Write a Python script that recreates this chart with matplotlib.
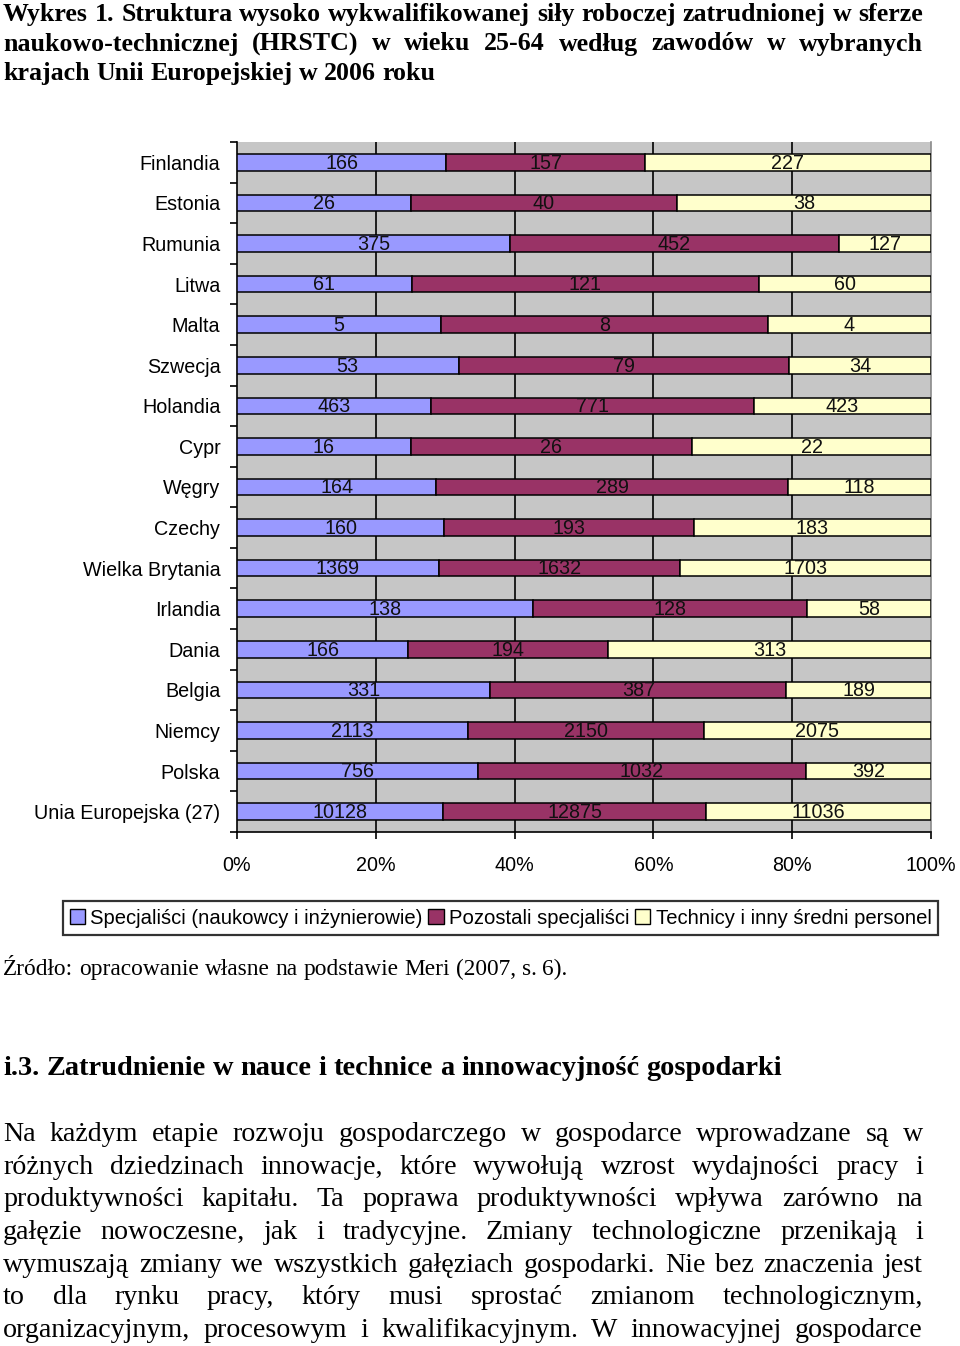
import matplotlib
matplotlib.use("Agg")
import matplotlib.pyplot as plt
import matplotlib.patches as mpatches
import numpy as np

# ---------------- data ----------------
countries = ["Finlandia", "Estonia", "Rumunia", "Litwa", "Malta", "Szwecja",
             "Holandia", "Cypr", "Węgry", "Czechy", "Wielka Brytania",
             "Irlandia", "Dania", "Belgia", "Niemcy", "Polska",
             "Unia Europejska (27)"]
specjalisci = [166, 26, 375, 61, 5, 53, 463, 16, 164, 160, 1369, 138, 166,
               331, 2113, 756, 10128]
pozostali = [157, 40, 452, 121, 8, 79, 771, 26, 289, 193, 1632, 128, 194,
             387, 2150, 1032, 12875]
technicy = [227, 38, 127, 60, 4, 34, 423, 22, 118, 183, 1703, 58, 313,
            189, 2075, 392, 11036]
series_names = ["Specjaliści (naukowcy i inżynierowie)", "Pozostali specjaliści",
                "Technicy i inny średni personel"]
xtick_labels = ["0%", "20%", "40%", "60%", "80%", "100%"]

title_lines = [
    "Wykres 1. Struktura wysoko wykwalifikowanej siły roboczej zatrudnionej w sferze",
    "naukowo-technicznej (HRSTC) w wieku 25-64 według zawodów w wybranych",
    "krajach Unii Europejskiej w 2006 roku",
]
source_text = "Źródło: opracowanie własne na podstawie Meri (2007, s. 6)."
heading_text = "i.3. Zatrudnienie w nauce i technice a innowacyjność gospodarki"
body_lines = [
    "Na każdym etapie rozwoju gospodarczego w gospodarce wprowadzane są w",
    "różnych dziedzinach innowacje, które wywołują wzrost wydajności pracy i",
    "produktywności kapitału. Ta poprawa produktywności wpływa zarówno na",
    "gałęzie nowoczesne, jak i tradycyjne. Zmiany technologiczne przenikają i",
    "wymuszają zmiany we wszystkich gałęziach gospodarki. Nie bez znaczenia jest",
    "to dla rynku pracy, który musi sprostać zmianom technologicznym,",
    "organizacyjnym, procesowym i kwalifikacyjnym. W innowacyjnej gospodarce",
]

colors = ["#9999FF", "#993366", "#FFFFCC"]

# ---------------- figure ----------------
W, H = 960, 1346
fig = plt.figure(figsize=(W / 100, H / 100), dpi=100)
fig.patch.set_facecolor("white")

SANS = "Liberation Sans"
SERIF = "Liberation Serif"
FS = 14.2

ax = fig.add_axes([237 / W, 1 - 832 / H, 694 / W, 690 / H])
ax.set_facecolor("#C6C6C6")

data = np.array([specjalisci, pozostali, technicy], dtype=float)
totals = data.sum(axis=0)
pct = data / totals * 100
y = np.arange(len(countries))
left = np.zeros(len(countries))
for i in range(3):
    ax.barh(y, pct[i], left=left, height=0.41, color=colors[i],
            edgecolor="black", linewidth=1.1, zorder=3)
    for j in range(len(countries)):
        ax.text(left[j] + pct[i][j] / 2, y[j] + 0.02, f"{int(data[i][j])}",
                ha="center", va="center", fontsize=FS, family=SANS,
                color="#111111", zorder=4)
    left += pct[i]

ax.set_xlim(0, 100)
ax.set_ylim(len(countries) - 0.5, -0.5)
for xv in [20, 40, 60, 80]:
    ax.axvline(xv, color="black", linewidth=1.2, zorder=1)

ax.set_xticks([0, 20, 40, 60, 80, 100])
ax.set_xticklabels(xtick_labels, fontsize=FS, family=SANS)
ax.tick_params(axis="x", direction="out", length=5, width=1.2, pad=12.5)

ax.set_yticks(np.arange(-0.5, len(countries), 1.0))
ax.set_yticklabels([])
ax.set_yticks(y, minor=True)
ax.set_yticklabels(countries, minor=True, fontsize=FS, family=SANS)
ax.tick_params(axis="y", which="major", direction="out", length=5, width=1.2)
ax.tick_params(axis="y", which="minor", length=0, pad=12)

ax.spines["left"].set_linewidth(1.2)
ax.spines["bottom"].set_linewidth(1.2)
ax.spines["top"].set_visible(False)
ax.spines["right"].set_color("#8a8a8a")
ax.spines["right"].set_linewidth(1.2)

handles = [mpatches.Patch(facecolor=c, edgecolor="black", linewidth=1.0) for c in colors]
leg = fig.legend(handles, series_names, loc="center",
                 bbox_to_anchor=(500.5 / W, 1 - 918 / H), ncol=3,
                 prop={"family": SANS, "size": 14.6}, frameon=True,
                 fancybox=False, edgecolor="black", handlelength=0.75,
                 handleheight=0.75, handletextpad=0.25, columnspacing=0.3,
                 borderpad=0.35, borderaxespad=0)
leg.get_frame().set_linewidth(1.6)

# ---------------- text helpers ----------------
renderer = fig.canvas.get_renderer()


def px_to_fig(x, yy):
    return x / W, 1 - yy / H


def draw_line(text, x0, x1, baseline, justify, **kw):
    words = text.split(" ")
    objs = []
    widths = []
    for w_ in words:
        t = fig.text(0, 0, w_, va="baseline", ha="left", **kw)
        widths.append(t.get_window_extent(renderer).width)
        objs.append(t)
    sp = fig.text(0, 0, "a a", va="baseline", **kw)
    sp2 = fig.text(0, 0, "aa", va="baseline", **kw)
    space = sp.get_window_extent(renderer).width - sp2.get_window_extent(renderer).width
    sp.remove()
    sp2.remove()
    if justify and len(words) > 1:
        gap = (x1 - x0 - sum(widths)) / (len(words) - 1)
    else:
        gap = space
    x = x0
    for t, wd in zip(objs, widths):
        t.set_position(px_to_fig(x, baseline))
        x += wd + gap


title_kw = dict(family=SERIF, fontsize=18.6, fontweight="bold", color="black")
for k, line in enumerate(title_lines):
    draw_line(line, 3, 923, 21 + k * 29.5, k < 2, **title_kw)

draw_line(source_text, 3, 562, 975, False, family=SERIF, fontsize=16.8, color="black")
draw_line(heading_text, 3, 781, 1075, False, family=SERIF, fontsize=20.4,
          fontweight="bold", color="black")

body_kw = dict(family=SERIF, fontsize=20.2, color="black")
for k, line in enumerate(body_lines):
    draw_line(line, 3, 923, 1141 + k * 32.7, True, **body_kw)

fig.savefig("out.png", dpi=100, facecolor="white")
